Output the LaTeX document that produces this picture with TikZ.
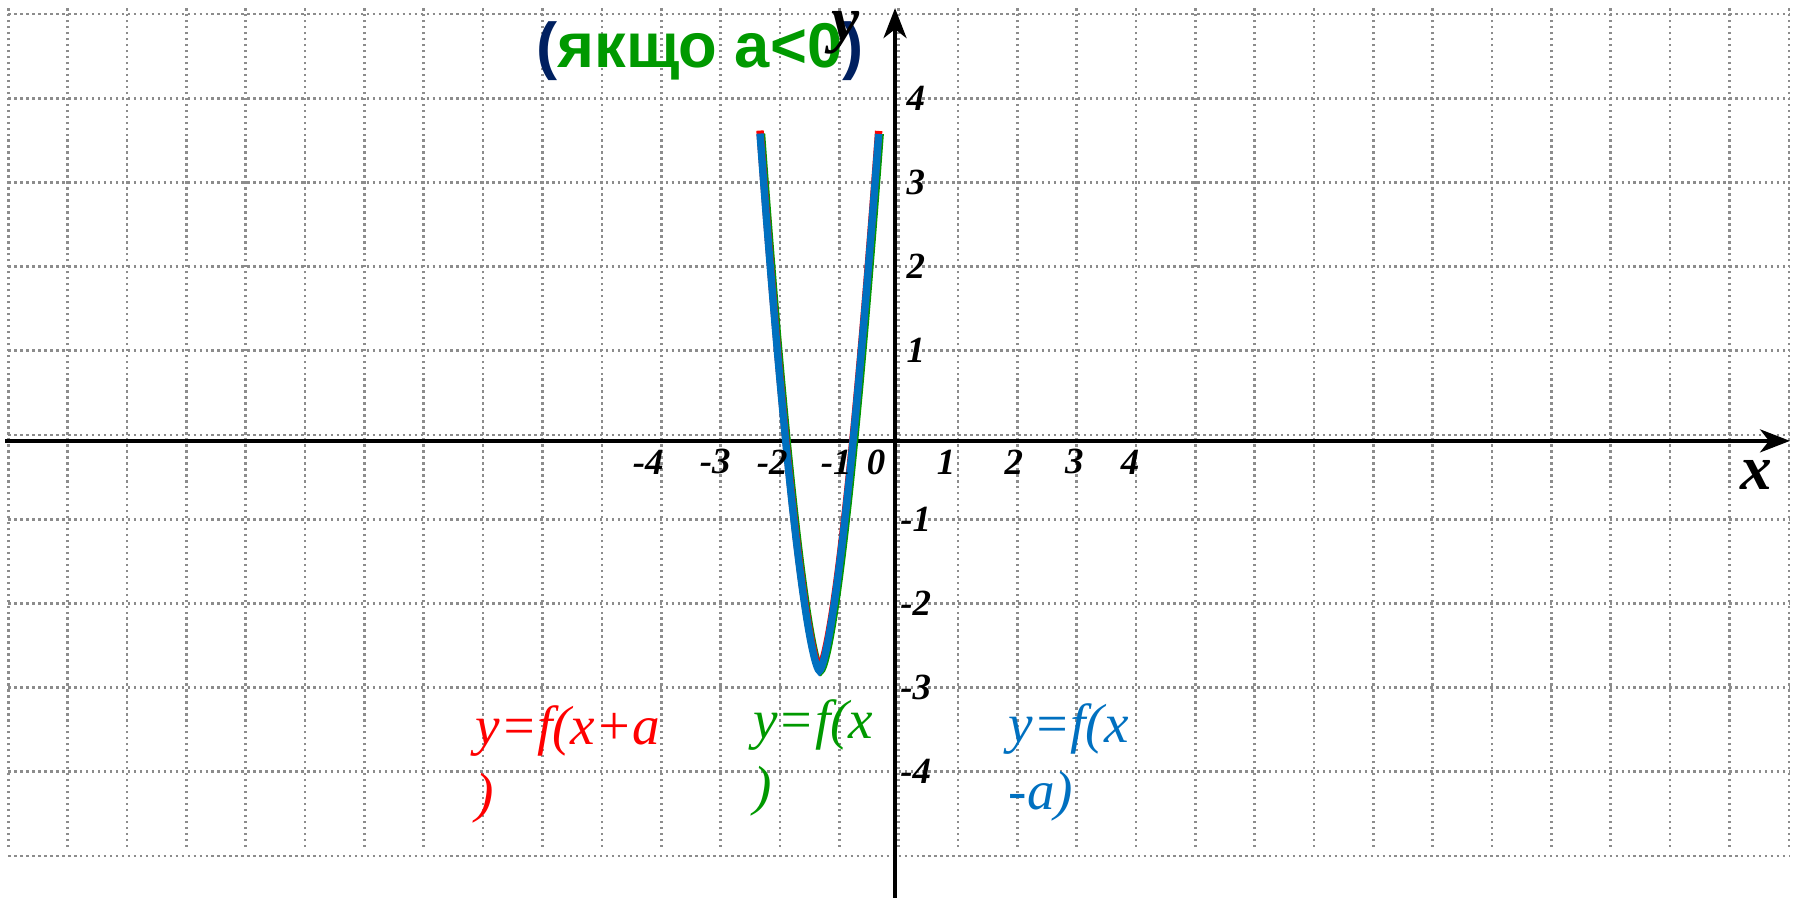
\documentclass[tikz,border=0pt]{standalone}
\usepackage{fontspec}
\setmainfont{Liberation Serif}
\newfontfamily\titlefont{Liberation Sans}
\usetikzlibrary{arrows.meta}
\definecolor{green1}{HTML}{009900}
\definecolor{navy1}{HTML}{002060}
\definecolor{blue1}{HTML}{0070C0}
\definecolor{red1}{HTML}{FF0000}
\definecolor{gridgray}{HTML}{8C8C8C}
\tikzset{
  gridline/.style={gridgray,line width=0.75pt,dash pattern=on 0.7pt off 1pt},
  axis/.style={black,line width=1.3pt,-{Stealth[length=8.5pt,width=6.5pt,inset=2.5pt]}},
  ticklab/.style={font=\bfseries\itshape\fontsize{10.5}{12}\selectfont,inner sep=0pt},
  funclab/.style={font=\itshape\fontsize{15.7}{18.8}\selectfont,align=left,inner sep=0pt,anchor=base west},
  curve/.style={line width=2.1pt,domain=-1:1,samples=121}
}

\begin{document}
\begin{tikzpicture}[x=0.5935cm,y=0.842cm]
  \useasboundingbox (-15.1407,-5.4988) rectangle (15.1205,5.1663);
  \foreach \i in {-15,...,15}
    \draw[gridline] (\i,-4.893) -- (\i,5.083);
  \foreach \j in {-5,...,5}
    \draw[gridline] (-15,\j) -- (15,\j);
  \coordinate (xstart) at (-15.05,-0.07);
  \coordinate (xtip) at (15.02,-0.07);
  \coordinate (ystart) at (-0.06,-5.5);
  \coordinate (ytip) at (-0.06,5.07);
  \draw[axis] (xstart) -- (xtip);
  \draw[axis] (ystart) -- (ytip);
  \draw[curve,green1,xshift=0.015cm] plot ({\x-1.335},{6.38*abs(\x)*sqrt(abs(\x))-2.8});
  \draw[curve,red1,yshift=0.03cm] plot ({\x-1.335},{6.38*abs(\x)*sqrt(abs(\x))-2.8});
  \draw[curve,blue1] plot ({\x-1.335},{6.38*abs(\x)*sqrt(abs(\x))-2.8});
  \foreach \t/\px [count=\k] in {-4/-4.22,-3/-3.09,-2/-2.13,-1/-1.05,0/-0.38,1/0.80,2/1.94,3/2.96,4/3.90}
    \node[ticklab] (xtick\k) at (\px,-0.32) {\t};
  \foreach \t [count=\k] in {-4,-3,-2,-1,1,2,3,4}
    \node[ticklab] (ytick\k) at (0.29,\t) {\t};
  \node[font=\bfseries\itshape\fontsize{18}{20}\selectfont,anchor=base,inner sep=0pt] (xlab) at (14.455,-0.653) {x};
  \node[font=\titlefont\bfseries\fontsize{18}{21}\selectfont,green1,anchor=base,inner sep=0pt] (title) at (-3.346,4.36)
       {\textcolor{navy1}{(}якщо а<0\textcolor{navy1}{)}};
  \node[font=\bfseries\itshape\fontsize{18}{20}\selectfont,anchor=base,inner sep=0pt] (ylab) at (-0.89,4.68) {y};
  \node[funclab,red1] (shiftleft) at (-7.14,-4.466) {y=f(x+a\\)};
  \node[funclab,green1] (plain) at (-2.46,-4.394) {y=f(x\\)};
  \node[funclab,blue1] (shiftright) at (1.843,-4.442) {y=f(x\\-a)};
\end{tikzpicture}
\end{document}
